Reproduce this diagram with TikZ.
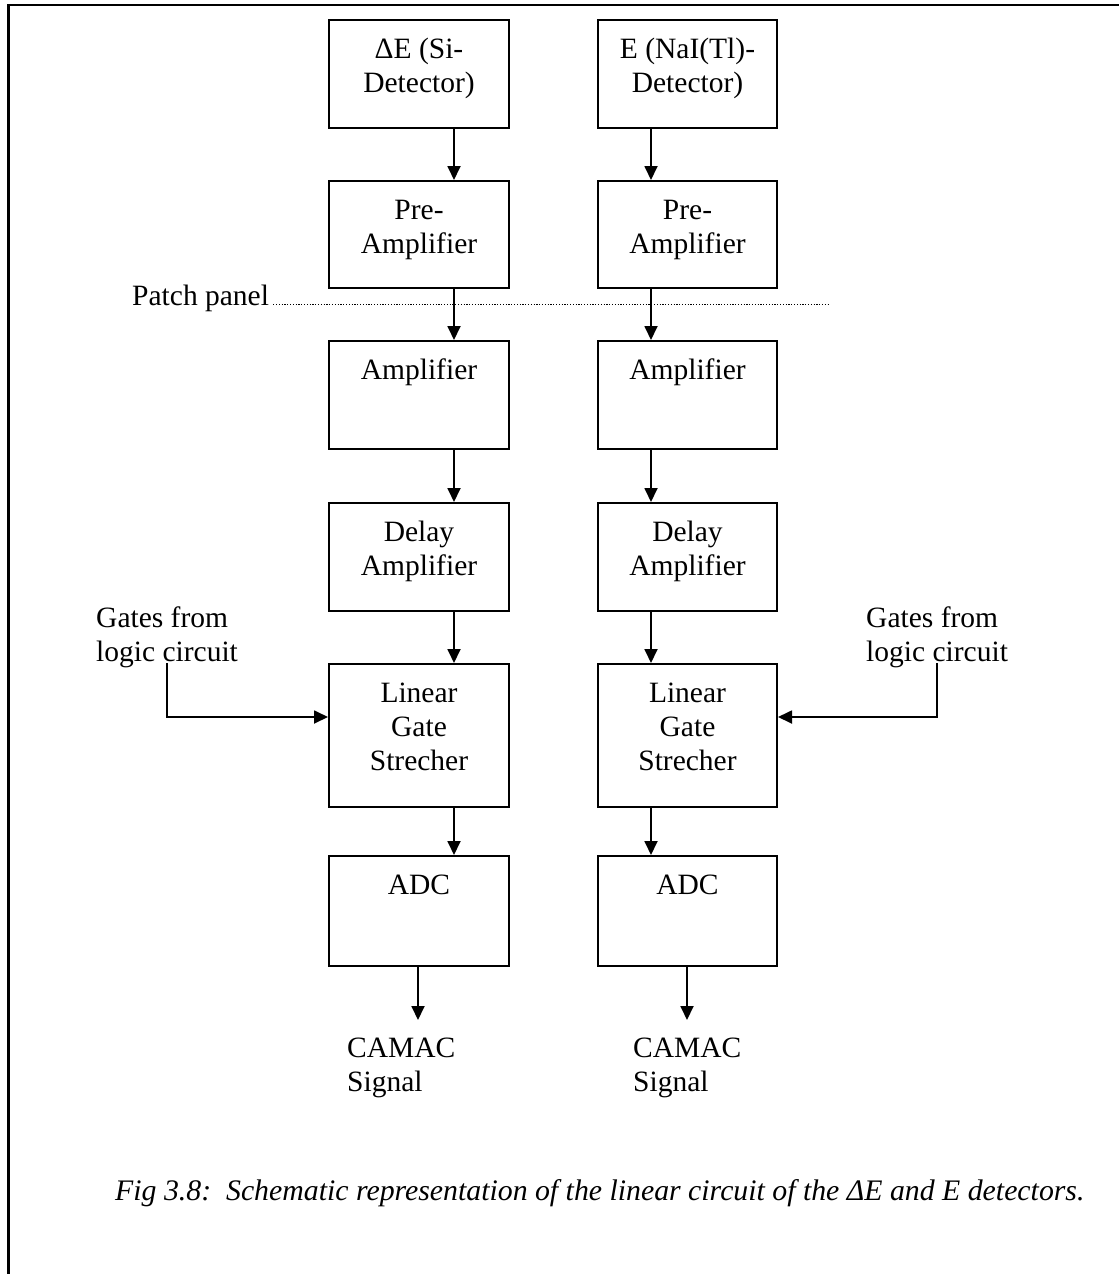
\documentclass[tikz,border=0pt]{standalone}
\usepackage{fontspec}
\setmainfont{Liberation Serif}
\usetikzlibrary{arrows.meta,calc}
\tikzset{
  box/.style={draw,line width=2pt,rectangle,inner sep=0pt,anchor=north west,minimum width=180pt},
  arr/.style={line width=1.8pt,-{Triangle[length=14pt,width=13pt]}},
  txt/.style={inner sep=0pt,font=\fontsize{29.5}{34}\selectfont},
  capt/.style={inner sep=0pt,font=\fontsize{29.8}{34}\selectfont\itshape},
}
\newcommand{\boxtext}[2]{\node[txt,anchor=base] at ($(#1.north)+(0,39)$) {\begin{tabular}[t]{@{}c@{}}#2\end{tabular}};}
\begin{document}
\begin{tikzpicture}[x=1pt,y=-1pt]
\useasboundingbox (0,0) rectangle (1119,1274);
% frame
\draw[line width=2.5pt] (8.5,1274) -- (8.5,5) -- (1119,5);
% left column
\node[box,minimum height=108pt] (a1) at (328,19) {};
\node[box,minimum height=107pt] (a2) at (328,180) {};
\node[box,minimum height=108pt] (a3) at (328,340) {};
\node[box,minimum height=108pt] (a4) at (328,502) {};
\node[box,minimum height=143pt] (a5) at (328,663) {};
\node[box,minimum height=110pt] (a6) at (328,855) {};
% right column
\node[box,minimum height=108pt,minimum width=179pt] (b1) at (597,19) {};
\node[box,minimum height=107pt,minimum width=179pt] (b2) at (597,180) {};
\node[box,minimum height=108pt,minimum width=179pt] (b3) at (597,340) {};
\node[box,minimum height=108pt,minimum width=179pt] (b4) at (597,502) {};
\node[box,minimum height=143pt,minimum width=179pt] (b5) at (597,663) {};
\node[box,minimum height=110pt,minimum width=179pt] (b6) at (597,855) {};
% texts
\boxtext{a1}{ΔE (Si-\\Detector)}
\boxtext{a2}{Pre-\\Amplifier}
\boxtext{a3}{Amplifier}
\boxtext{a4}{Delay\\Amplifier}
\boxtext{a5}{Linear\\Gate\\Strecher}
\boxtext{a6}{ADC}
\boxtext{b1}{E (NaI(Tl)-\\Detector)}
\boxtext{b2}{Pre-\\Amplifier}
\boxtext{b3}{Amplifier}
\boxtext{b4}{Delay\\Amplifier}
\boxtext{b5}{Linear\\Gate\\Strecher}
\boxtext{b6}{ADC}
% patch panel
\node[txt,anchor=base west] (pp) at (132,305) {Patch panel};
\coordinate (ppend) at (828,304);
\draw[line width=1pt,dash pattern=on 1.2pt off 1.6pt] ($(pp.base east)+(4,-1)$) -- (ppend);
% arrows
\coordinate (ax) at (454,0);
\coordinate (bx) at (651,0);
\foreach \i/\j in {1/2,2/3,3/4,4/5,5/6}{
  \draw[arr] (a\i.south -| ax) -- (a\j.north -| ax);
  \draw[arr] (b\i.south -| bx) -- (b\j.north -| bx);
}
\coordinate (ea) at (418,1020);
\coordinate (eb) at (687,1020);
\draw[arr] (a6.south -| ea) -- (ea);
\draw[arr] (b6.south -| eb) -- (eb);
% CAMAC
\node[txt,anchor=base west] (ca) at (347,1057) {\begin{tabular}[t]{@{}l@{}}CAMAC\\Signal\end{tabular}};
\node[txt,anchor=base west] (cb) at (633,1057) {\begin{tabular}[t]{@{}l@{}}CAMAC\\Signal\end{tabular}};
% gates
\node[txt,anchor=base west] (ga) at (96,627) {\begin{tabular}[t]{@{}l@{}}Gates from\\logic circuit\end{tabular}};
\node[txt,anchor=base west] (gb) at (866,627) {\begin{tabular}[t]{@{}l@{}}Gates from\\logic circuit\end{tabular}};
\coordinate (gla) at (167,663);
\coordinate (glb) at (937,663);
\draw[arr] (gla) |- ($(a5.north west)+(0,54)$);
\draw[arr] (glb) |- ($(b5.north east)+(0,54)$);
% caption
\node[capt,anchor=base west] (cap) at (115,1200) {Fig 3.8:\ \ Schematic representation of the linear circuit of the ΔE and E detectors.};
\end{tikzpicture}
\end{document}
